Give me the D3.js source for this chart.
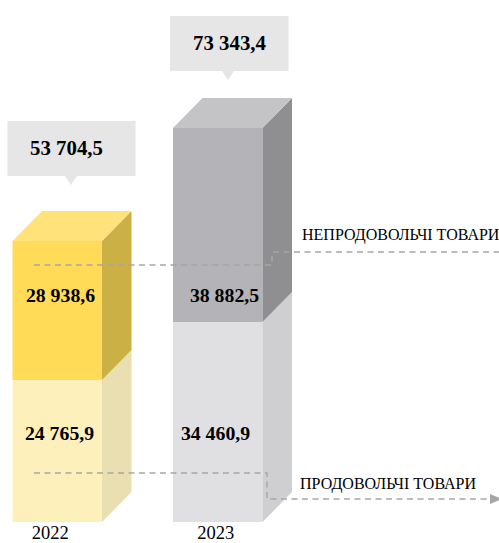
<!DOCTYPE html>
<html>
<head>
<meta charset="utf-8">
<script src="https://cdn.jsdelivr.net/npm/d3@7"></script>
<style>
html,body{margin:0;padding:0;background:#fff;}
svg{display:block;}
text{font-family:"Liberation Serif",serif;fill:#000;}
</style>
</head>
<body>
<div id="chart"></div>
<script>
var years = ["2022","2023"];
var food = [24765.9, 34460.9];
var nonFood = [28938.6, 38882.5];
var totals = [53704.5, 73343.4];
var foodLabels = ["24 765,9","34 460,9"];
var nonFoodLabels = ["28 938,6","38 882,5"];
var totalLabels = ["53 704,5","73 343,4"];
var seriesNames = ["НЕПРОДОВОЛЬЧІ ТОВАРИ","ПРОДОВОЛЬЧІ ТОВАРИ"];

var width = 499, height = 543;
var depthX = 29.5, depthY = 30;

var svg = d3.select("#chart").append("svg")
	.attr("width",width)
	.attr("height",height);

var x = d3.scaleBand().domain(years).range([12.5,262.5]).paddingInner(0.4424).paddingOuter(0);

// columns in the original are not drawn to one ratio, so the scale is piecewise
var y = d3.scaleLinear()
	.domain([0, food[0], food[1], totals[0], totals[1]])
	.range([522, 380, 322, 241, 128]);

var colors = {
	food: [{front:"#fef0bb",side:"#eadfb0"},{front:"#e0e0e2",side:"#cfcfd1"}],
	nonFood: [{front:"#ffdb58",side:"#cbb145",top:"#ffe27a"},{front:"#b4b3b7",side:"#8f8f91",top:"#c4c4c6"}]
};

function poly(pts){ return pts.map(function(p){return p.join(",");}).join(" "); }

function drawBlock(i, from, to, c){
	var x0 = x(years[i]), x1 = x0 + x.bandwidth();
	var yb = y(from), yt = y(to);
	svg.append("rect").attr("x",x0).attr("y",yt).attr("width",x.bandwidth()).attr("height",yb-yt).attr("fill",c.front);
	svg.append("polygon").attr("fill",c.side)
		.attr("points",poly([[x1,yb],[x1+depthX,yb-depthY],[x1+depthX,yt-depthY],[x1,yt]]));
	if(c.top){
		svg.append("polygon").attr("fill",c.top)
			.attr("points",poly([[x0,yt],[x0+depthX,yt-depthY],[x1+depthX,yt-depthY],[x1,yt]]));
	}
}

years.forEach(function(d,i){
	drawBlock(i, 0, food[i], colors.food[i]);
	drawBlock(i, food[i], totals[i], colors.nonFood[i]);
});

// connector lines
var lineColor = "#a6a6a6";
var connectors = [
	{pts:[[34,265],[272,265],[272,252],[499,252]]},
	{pts:[[34,473],[267,473],[267,499],[491,499]]}
];
svg.selectAll(".connector").data(connectors).enter().append("path")
	.attr("class","connector")
	.attr("fill","none")
	.attr("stroke",lineColor)
	.attr("stroke-width",1.4)
	.attr("stroke-dasharray","6,4.5")
	.attr("d",function(d){return d3.line()(d.pts);});
svg.append("polygon").attr("fill",lineColor).attr("points",poly([[490,494],[502,499],[490,504]]));

// value labels, the placing is by hand as in the original
var inner = svg.append("g").attr("font-weight","bold").attr("font-size",19.8).attr("text-anchor","middle");
var nonFoodX = [60.5,224.5], foodX = [59.5,215.5];
years.forEach(function(d,i){
	inner.append("text").attr("x",nonFoodX[i]).attr("y",302).text(nonFoodLabels[i]);
	inner.append("text").attr("x",foodX[i]).attr("y",440).text(foodLabels[i]);
});

// callouts above columns
var callouts = [
	{x:7.5,y:121,w:128,h:55,tip:71},
	{x:170,y:16,w:118.5,h:55,tip:228}
];
callouts.forEach(function(c,i){
	svg.append("rect").attr("x",c.x).attr("y",c.y).attr("width",c.w).attr("height",c.h).attr("fill","#e6e6e6");
	svg.append("polygon").attr("fill","#e6e6e6").attr("points",poly([[c.tip-6,c.y+c.h],[c.tip+6,c.y+c.h],[c.tip,c.y+c.h+9]]));
	svg.append("text").attr("x",i==0?66.5:229.5).attr("y",c.y+34).attr("text-anchor","middle")
		.attr("font-weight","bold").attr("font-size",20.8).text(totalLabels[i]);
});

// year labels
years.forEach(function(d,i){
	svg.append("text").attr("x",x(d)+x.bandwidth()/2+(i==0?-7:-2)).attr("y",539).attr("text-anchor","middle")
		.attr("font-size",18.5).text(d);
});

// series names
svg.append("text").attr("x",302).attr("y",240).attr("font-size",16).attr("fill","#222").text(seriesNames[0]);
svg.append("text").attr("x",300).attr("y",489).attr("font-size",16).attr("fill","#222").text(seriesNames[1]);
</script>
</body>
</html>
